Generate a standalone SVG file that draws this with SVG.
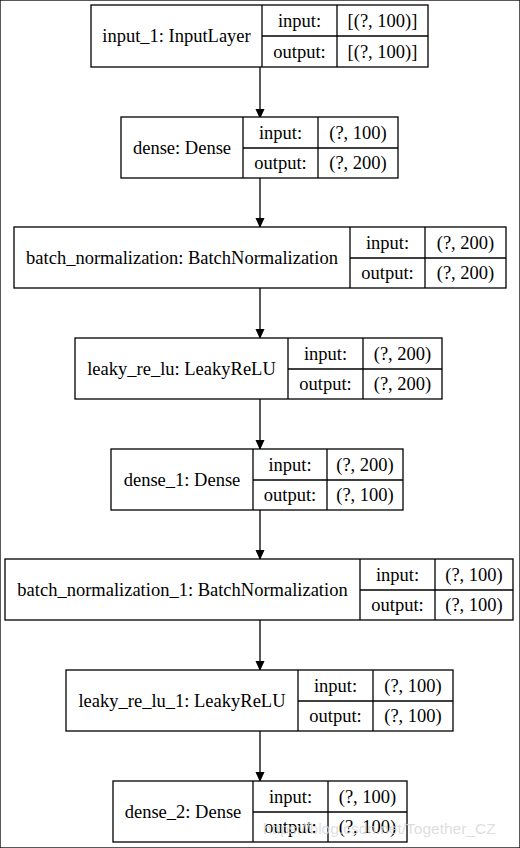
<svg xmlns="http://www.w3.org/2000/svg" width="520" height="848" viewBox="0 0 520 848">
<defs>
<style>
rect,line.d{fill:#fff;stroke:#000;stroke-width:1.3}
line.d{fill:none}
text{font-family:"Liberation Serif","Times New Roman",serif;font-size:18.5px;fill:#000;text-anchor:middle}
.e{stroke:#000;stroke-width:1.3;fill:none}
.wm{font-family:"Liberation Sans",Arial,sans-serif;font-size:15.5px;fill:#d8d8d8;fill-opacity:0.85;text-anchor:start}
</style>
<marker id="ah" markerWidth="10" markerHeight="11" refX="10" refY="5" orient="auto" markerUnits="userSpaceOnUse" viewBox="0 0 11 10">
<path d="M0,0 L11,5 L0,10 Z" fill="#000"/>
</marker>
</defs>
<rect width="520" height="848" fill="#fff" stroke="none"/>
<g id="edges">
<line class="e" x1="260" y1="67" x2="260" y2="118" marker-end="url(#ah)"/>
<line class="e" x1="260" y1="178" x2="260" y2="227" marker-end="url(#ah)"/>
<line class="e" x1="260" y1="288" x2="260" y2="338" marker-end="url(#ah)"/>
<line class="e" x1="260" y1="399" x2="260" y2="449" marker-end="url(#ah)"/>
<line class="e" x1="260" y1="510" x2="260" y2="559" marker-end="url(#ah)"/>
<line class="e" x1="260" y1="620" x2="260" y2="670" marker-end="url(#ah)"/>
<line class="e" x1="260" y1="731" x2="260" y2="781" marker-end="url(#ah)"/>
</g>
<g id="n1">
<rect x="91" y="5" width="337" height="62"/>
<line class="d" x1="262" y1="5" x2="262" y2="67"/><line class="d" x1="337" y1="5" x2="337" y2="67"/><line class="d" x1="262" y1="36" x2="428" y2="36"/>
<text x="176.5" y="42">input_1: InputLayer</text>
<text x="299.5" y="27">input:</text><text x="299.5" y="58">output:</text>
<text x="382.5" y="27">[(?, 100)]</text><text x="382.5" y="58">[(?, 100)]</text>
</g>
<g id="n2">
<rect x="121" y="117" width="277" height="61"/>
<line class="d" x1="243" y1="117" x2="243" y2="178"/><line class="d" x1="318" y1="117" x2="318" y2="178"/><line class="d" x1="243" y1="148" x2="398" y2="148"/>
<text x="182" y="154">dense: Dense</text>
<text x="280.5" y="139">input:</text><text x="280.5" y="169">output:</text>
<text x="358" y="139">(?, 100)</text><text x="358" y="169">(?, 200)</text>
</g>
<g id="n3">
<rect x="14" y="227" width="492" height="61"/>
<line class="d" x1="350" y1="227" x2="350" y2="288"/><line class="d" x1="425" y1="227" x2="425" y2="288"/><line class="d" x1="350" y1="258" x2="506" y2="258"/>
<text x="182" y="264">batch_normalization: BatchNormalization</text>
<text x="387.5" y="249">input:</text><text x="387.5" y="279">output:</text>
<text x="465.5" y="249">(?, 200)</text><text x="465.5" y="279">(?, 200)</text>
</g>
<g id="n4">
<rect x="75" y="338" width="367" height="61"/>
<line class="d" x1="288" y1="338" x2="288" y2="399"/><line class="d" x1="363" y1="338" x2="363" y2="399"/><line class="d" x1="288" y1="369" x2="442" y2="369"/>
<text x="181.5" y="375">leaky_re_lu: LeakyReLU</text>
<text x="325.5" y="360">input:</text><text x="325.5" y="390">output:</text>
<text x="402.5" y="360">(?, 200)</text><text x="402.5" y="390">(?, 200)</text>
</g>
<g id="n5">
<rect x="111" y="449" width="292" height="61"/>
<line class="d" x1="253" y1="449" x2="253" y2="510"/><line class="d" x1="327" y1="449" x2="327" y2="510"/><line class="d" x1="253" y1="480" x2="403" y2="480"/>
<text x="182" y="486">dense_1: Dense</text>
<text x="290" y="471">input:</text><text x="290" y="501">output:</text>
<text x="365" y="471">(?, 200)</text><text x="365" y="501">(?, 100)</text>
</g>
<g id="n6">
<rect x="5" y="559" width="508" height="61"/>
<line class="d" x1="360" y1="559" x2="360" y2="620"/><line class="d" x1="435" y1="559" x2="435" y2="620"/><line class="d" x1="360" y1="590" x2="513" y2="590"/>
<text x="182.5" y="596">batch_normalization_1: BatchNormalization</text>
<text x="397.5" y="581">input:</text><text x="397.5" y="611">output:</text>
<text x="474" y="581">(?, 100)</text><text x="474" y="611">(?, 100)</text>
</g>
<g id="n7">
<rect x="66" y="670" width="387" height="61"/>
<line class="d" x1="298" y1="670" x2="298" y2="731"/><line class="d" x1="373" y1="670" x2="373" y2="731"/><line class="d" x1="298" y1="701" x2="453" y2="701"/>
<text x="182" y="707">leaky_re_lu_1: LeakyReLU</text>
<text x="335.5" y="692">input:</text><text x="335.5" y="722">output:</text>
<text x="413" y="692">(?, 100)</text><text x="413" y="722">(?, 100)</text>
</g>
<g id="n8">
<rect x="113" y="781" width="294" height="61"/>
<line class="d" x1="253" y1="781" x2="253" y2="842"/><line class="d" x1="328" y1="781" x2="328" y2="842"/><line class="d" x1="253" y1="812" x2="407" y2="812"/>
<text x="183" y="818">dense_2: Dense</text>
<text x="290.5" y="803">input:</text><text x="290.5" y="833">output:</text>
<text x="367.5" y="803">(?, 100)</text><text x="367.5" y="833">(?, 100)</text>
</g>
<text class="wm" x="263" y="834">https://blog.csdn.net/Together_CZ</text>
</svg>
